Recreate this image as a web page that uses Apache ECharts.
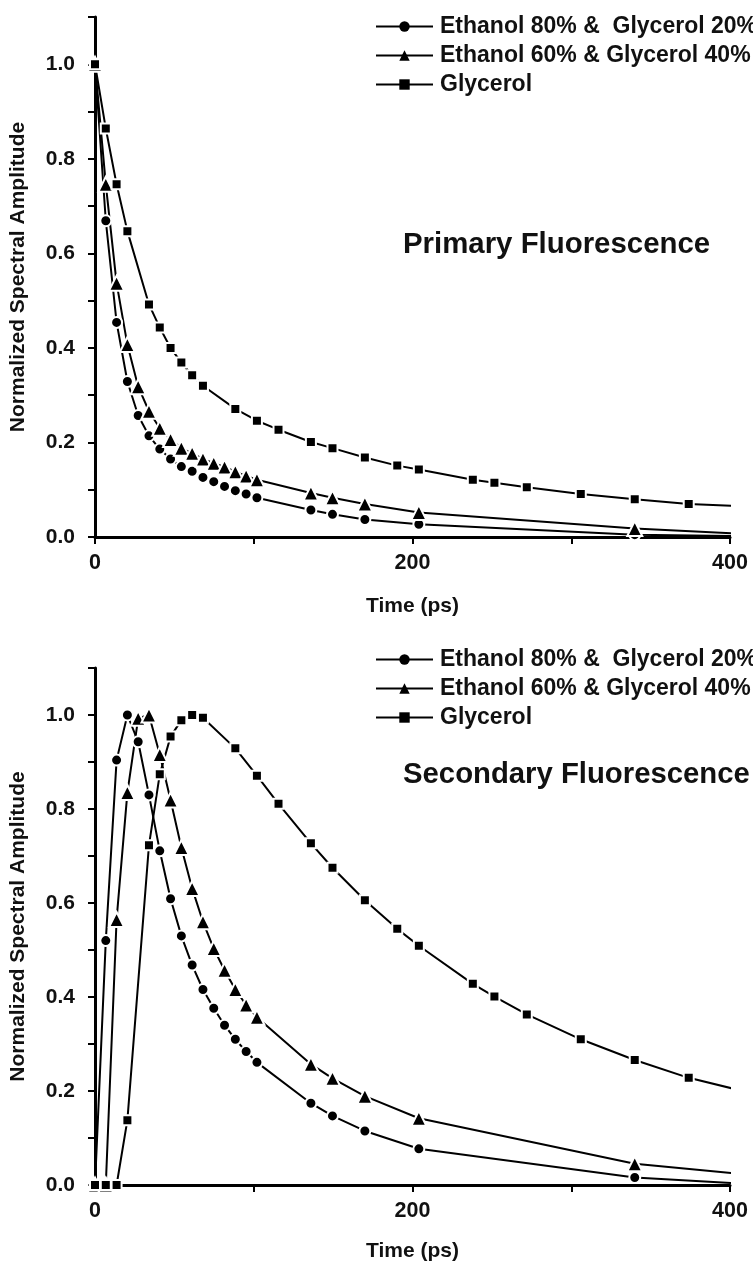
<!DOCTYPE html>
<html>
<head>
<meta charset="utf-8">
<script src="https://cdn.jsdelivr.net/npm/echarts@6/dist/echarts.min.js"></script>
<style>
html,body{margin:0;padding:0;background:#fff;}
#c{width:753px;height:1268px;}
</style>
</head>
<body>
<div id="c"></div>
<script>
// ---------- Data (time in ps, normalized amplitude) ----------
var seriesNames = ['Ethanol 80% &  Glycerol 20%', 'Ethanol 60% & Glycerol 40%', 'Glycerol'];
var panelTitles = ['Primary Fluorescence', 'Secondary Fluorescence'];
var xTickLabels = [0, 200, 400];
var yTickLabels = [0.0, 0.2, 0.4, 0.6, 0.8, 1.0];

// Primary fluorescence
var priTimeE80 = [0, 6.8, 13.6, 20.4, 27.2, 34, 40.8, 47.6, 54.4, 61.2, 68, 74.8, 81.6, 88.4, 95.2, 102, 136, 149.6, 170, 204, 340, 408];
var priValE80  = [1.0, 0.669, 0.454, 0.329, 0.257, 0.214, 0.186, 0.165, 0.149, 0.139, 0.126, 0.117, 0.107, 0.098, 0.091, 0.083, 0.057, 0.048, 0.037, 0.027, 0.005, 0.002];
var priTimeE60 = [0, 6.8, 13.6, 20.4, 27.2, 34, 40.8, 47.6, 54.4, 61.2, 68, 74.8, 81.6, 88.4, 95.2, 102, 136, 149.6, 170, 204, 340, 408];
var priValE60  = [1.0, 0.746, 0.537, 0.407, 0.318, 0.266, 0.230, 0.206, 0.188, 0.177, 0.165, 0.156, 0.148, 0.138, 0.129, 0.121, 0.093, 0.083, 0.070, 0.052, 0.018, 0.007];
var priTimeGly = [0, 6.8, 13.6, 20.4, 34, 40.8, 47.6, 54.4, 61.2, 68, 88.4, 102, 115.6, 136, 149.6, 170, 190.4, 204, 238, 251.6, 272, 306, 340, 374, 408];
var priValGly  = [1.0, 0.864, 0.746, 0.647, 0.492, 0.443, 0.400, 0.369, 0.342, 0.320, 0.271, 0.246, 0.227, 0.201, 0.188, 0.168, 0.151, 0.143, 0.121, 0.115, 0.105, 0.091, 0.080, 0.070, 0.065];

// Secondary fluorescence
var secTimeE80 = [0, 6.8, 13.6, 20.4, 27.2, 34, 40.8, 47.6, 54.4, 61.2, 68, 74.8, 81.6, 88.4, 95.2, 102, 136, 149.6, 170, 204, 340, 408];
var secValE80  = [0, 0.520, 0.904, 1.0, 0.943, 0.830, 0.711, 0.609, 0.530, 0.468, 0.416, 0.376, 0.340, 0.310, 0.284, 0.261, 0.174, 0.147, 0.115, 0.077, 0.016, 0.003];
var secTimeE60 = [0, 6.8, 13.6, 20.4, 27.2, 34, 40.8, 47.6, 54.4, 61.2, 68, 74.8, 81.6, 88.4, 95.2, 102, 136, 149.6, 170, 204, 340, 408];
var secValE60  = [0, 0, 0.565, 0.835, 0.993, 1.0, 0.916, 0.819, 0.718, 0.631, 0.560, 0.503, 0.457, 0.416, 0.383, 0.357, 0.257, 0.227, 0.189, 0.142, 0.045, 0.023];
var secTimeGly = [0, 6.8, 13.6, 20.4, 34, 40.8, 47.6, 54.4, 61.2, 68, 88.4, 102, 115.6, 136, 149.6, 170, 190.4, 204, 238, 251.6, 272, 306, 340, 374, 408];
var secValGly  = [0, 0, 0, 0.138, 0.723, 0.874, 0.954, 0.989, 1.0, 0.994, 0.929, 0.871, 0.811, 0.727, 0.675, 0.606, 0.545, 0.509, 0.428, 0.401, 0.363, 0.310, 0.266, 0.228, 0.200];

// ---------- Build chart ----------
var FONT = '"Liberation Sans", Arial, Helvetica, sans-serif';
var symbols = ['circle', 'triangle', 'rect'];
var symbolSizes = [11, 15, 10];

function pairs(t, v) { return t.map(function (x, i) { return [x, v[i]]; }); }

var panels = [
  [pairs(priTimeE80, priValE80), pairs(priTimeE60, priValE60), pairs(priTimeGly, priValGly)],
  [pairs(secTimeE80, secValE80), pairs(secTimeE60, secValE60), pairs(secTimeGly, secValGly)]
];

var grids = [
  {left: 95, right: 23, top: 17, bottom: 731},
  {left: 95, right: 23, top: 668, bottom: 83}
];

function xAxisFor(i, nameGap) {
  return {
    type: 'value', gridIndex: i, min: 0, max: 400, interval: 100,
    name: 'Time (ps)', nameLocation: 'middle', nameGap: nameGap,
    nameTextStyle: {fontFamily: FONT, fontWeight: 'bold', fontSize: 21, color: '#111'},
    axisLine: {show: true, onZero: false, lineStyle: {color: '#000', width: 3}},
    axisTick: {show: true, inside: false, length: 7, lineStyle: {color: '#000', width: 2}},
    splitLine: {show: false},
    axisLabel: {
      fontFamily: FONT, fontWeight: 'bold', fontSize: 21.5, color: '#111', margin: 15,
      formatter: function (v) { return xTickLabels.indexOf(v) >= 0 ? String(v) : ''; }
    }
  };
}
function yAxisFor(i) {
  return {
    type: 'value', gridIndex: i, min: 0, max: 1.1, interval: 0.1,
    name: 'Normalized Spectral Amplitude', nameLocation: 'middle', nameGap: 66,
    nameTextStyle: {fontFamily: FONT, fontWeight: 'bold', fontSize: 21, color: '#111'},
    axisLine: {show: true, onZero: false, lineStyle: {color: '#000', width: 3}},
    axisTick: {show: true, inside: false, length: 7, lineStyle: {color: '#000', width: 2}},
    splitLine: {show: false},
    axisLabel: {
      fontFamily: FONT, fontWeight: 'bold', fontSize: 21, color: '#111', margin: 20,
      formatter: function (v) {
        var r = Math.round(v * 10) / 10;
        for (var k = 0; k < yTickLabels.length; k++) {
          if (Math.abs(yTickLabels[k] - r) < 1e-6 && Math.abs(v - r) < 1e-6) return r.toFixed(1);
        }
        return '';
      }
    }
  };
}

var series = [];
panels.forEach(function (panel, gi) {
  panel.forEach(function (data, si) {
    series.push({
      type: 'line', name: seriesNames[si], xAxisIndex: gi, yAxisIndex: gi,
      data: data, symbol: symbols[si], symbolSize: symbolSizes[si], showAllSymbol: true,
      clip: true, animation: false,
      lineStyle: {color: '#000', width: 2},
      itemStyle: {color: '#000', borderColor: '#fff', borderWidth: 2},
      emphasis: {disabled: true}
    });
  });
});

function legendFor(top) {
  return {
    data: seriesNames, orient: 'vertical', left: 375, top: top,
    itemWidth: 57, itemHeight: 13, itemGap: 6, padding: 0,
    itemStyle: {borderWidth: 0},
    textStyle: {fontFamily: FONT, fontWeight: 'bold', fontSize: 23, color: '#111', padding: [0, 0, 0, 2]},
    selectedMode: false
  };
}

var option = {
  backgroundColor: '#fff',
  animation: false,
  title: [
    {text: panelTitles[0], left: 403, top: 230, padding: 0,
     textStyle: {fontFamily: FONT, fontWeight: 'bold', fontSize: 29.4, color: '#111'}},
    {text: panelTitles[1], left: 403, top: 760, padding: 0,
     textStyle: {fontFamily: FONT, fontWeight: 'bold', fontSize: 29.3, color: '#111'}}
  ],
  legend: [legendFor(15), legendFor(648)],
  grid: grids,
  xAxis: [xAxisFor(0, 59), xAxisFor(1, 56)],
  yAxis: [yAxisFor(0), yAxisFor(1)],
  series: series
};

var chart = echarts.init(document.getElementById('c'), null, {renderer: 'canvas'});
chart.setOption(option);
</script>
</body>
</html>
